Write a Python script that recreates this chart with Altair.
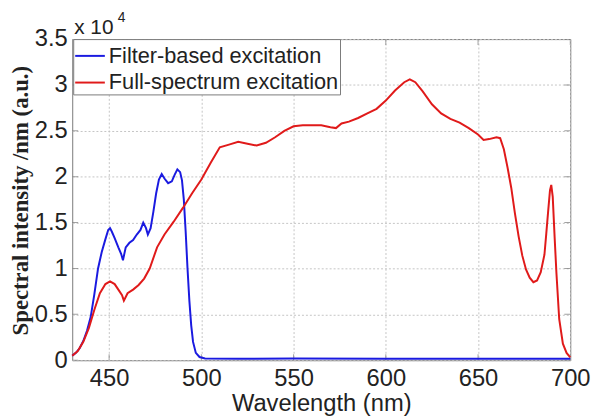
import altair as alt
import pandas as pd

# Filter-based excitation (blue)
blue_nm = [430, 432, 434, 436, 438, 440, 442, 444, 446, 448, 449.5, 450.5, 451.5, 453, 455,
           456.5, 457.5, 459, 461, 463, 465, 467, 468.5, 470, 471, 472.5, 474, 475.5, 477,
           478.5, 480, 482, 484, 485.5, 487, 488.5, 489.5, 490.5, 491.5, 492.5, 493.5, 494.5,
           495.5, 497, 499, 502, 520, 550, 600, 650, 700]
blue_val = [500, 800, 1300, 2100, 3200, 4700, 7200, 10000, 11800, 13200, 14200, 14400, 14000,
            13300, 12300, 11600, 10900, 12300, 12800, 13100, 13700, 14200, 15000, 14400, 13700,
            14400, 16200, 18200, 19700, 20300, 19800, 19300, 19500, 20200, 20800, 20500, 19600,
            17500, 14000, 10000, 6500, 3800, 2000, 800, 350, 200, 150, 200, 150, 150, 150]

# Full-spectrum excitation (red)
red_nm = [430, 433, 436, 439, 442, 445, 448, 450.5, 453, 455, 457, 458, 460, 463, 466, 469, 472,
          476, 480, 485, 490, 495, 500, 505, 510, 515, 520, 525, 530, 535, 540, 545, 550, 555,
          560, 565, 570, 573, 576, 580, 585, 590, 595, 600, 605, 610, 613, 616, 620, 625, 630,
          635, 640, 645, 650, 653, 656, 660, 662, 664, 666, 668, 670, 672, 674, 676, 678, 680,
          682, 684, 686, 687, 688, 689, 689.7, 690.5, 691.5, 692.5, 694, 696, 698, 700]
red_val = [500, 1000, 2000, 3500, 5500, 7300, 8300, 8600, 8300, 7700, 7100, 6500, 7300, 7700,
           8200, 8900, 10000, 12300, 13700, 15100, 16600, 18200, 19700, 21500, 23200, 23500,
           23800, 23600, 23400, 23700, 24300, 25000, 25500, 25600, 25600, 25600, 25400, 25300,
           25800, 26000, 26400, 26900, 27400, 28300, 29400, 30300, 30600, 30300, 29300, 27900,
           26900, 26300, 25900, 25300, 24600, 24000, 24100, 24300, 24200, 23000, 21000, 18800,
           16000, 13500, 11400, 9900, 9000, 8500, 8700, 9600, 11500, 13800, 16200, 18500, 19100,
           17800, 13500, 9500, 4500, 1800, 800, 300]

series_names = ["Filter-based excitation", "Full-spectrum excitation"]
series_colors = ["#1a1ae0", "#e01a1a"]
x_ticks = [450, 500, 550, 600, 650, 700]
y_ticks = [0, 5000, 10000, 15000, 20000, 25000, 30000, 35000]

W, H = 504, 325
frame_color = "#7a7a7a"

df = pd.concat([
    pd.DataFrame({"nm": blue_nm, "val": blue_val, "series": series_names[0]}),
    pd.DataFrame({"nm": red_nm, "val": red_val, "series": series_names[1]}),
])

x_enc = alt.X("nm:Q", scale=alt.Scale(domain=[430, 700], nice=False, zero=False),
              axis=alt.Axis(values=x_ticks, title="Wavelength (nm)", titleY=32,
                            labelPadding=7, format="d", labelFlush=False))
y_enc = alt.Y("val:Q", scale=alt.Scale(domain=[0, 35000], nice=False),
              axis=alt.Axis(values=y_ticks, title="Spectral intensity /nm (a.u.)",
                            labelExpr="format(datum.value / 10000, '~g')",
                            labelPadding=5, labelFlush=False, titleX=-40, titleY=163,
                            titleFont="Liberation Serif", titleFontWeight="bold",
                            titleFontSize=23))

lines = alt.Chart(df).mark_line(strokeWidth=2).encode(
    x=x_enc, y=y_enc,
    color=alt.Color("series:N", scale=alt.Scale(domain=series_names, range=series_colors),
                    legend=alt.Legend(title=None, orient="none", legendX=1, legendY=0)),
    detail="series:N",
)

xt = pd.DataFrame({"nm": x_ticks})
yt = pd.DataFrame({"val": y_ticks})
tick_style = dict(size=12, thickness=1, color=frame_color, clip=True)
ticks_bottom = alt.Chart(xt).mark_tick(orient="vertical", **tick_style).encode(x=x_enc, y=alt.value(H))
ticks_top = alt.Chart(xt).mark_tick(orient="vertical", **tick_style).encode(x=x_enc, y=alt.value(0))
ticks_left = alt.Chart(yt).mark_tick(orient="horizontal", **tick_style).encode(y=y_enc, x=alt.value(0))
ticks_right = alt.Chart(yt).mark_tick(orient="horizontal", **tick_style).encode(y=y_enc, x=alt.value(W))

exp_main = alt.Chart(pd.DataFrame({"t": ["x 10"]})).mark_text(
    align="left", baseline="alphabetic", font="Liberation Sans", fontSize=21, color="#222"
).encode(text="t:N", x=alt.value(2), y=alt.value(-5))

exp_sup = alt.Chart(pd.DataFrame({"t": ["4"]})).mark_text(
    align="left", baseline="alphabetic", font="Liberation Sans", fontSize=14, color="#222"
).encode(text="t:N", x=alt.value(46), y=alt.value(-17))

chart = alt.layer(ticks_bottom, ticks_top, ticks_left, ticks_right, lines, exp_main, exp_sup).properties(
    width=W, height=H,
    padding={"left": 65, "top": 29, "right": 22, "bottom": 56},
    autosize=alt.AutoSizeParams(type="none"),
).configure_view(
    stroke=frame_color, strokeWidth=1
).configure_axis(
    labelFont="Liberation Sans", labelFontSize=24, labelColor="#222",
    titleFont="Liberation Sans", titleFontSize=24, titleColor="#222", titleFontWeight="normal",
    ticks=False, tickSize=0, domain=False,
    grid=True, gridColor="#c4c4c4", gridDash=[2, 2], gridWidth=1,
).configure_legend(
    symbolType="stroke", symbolSize=900, symbolStrokeWidth=2,
    labelFont="Liberation Sans", labelFontSize=22, labelColor="#222", labelOffset=3,
    labelLimit=0, fillColor="white", strokeColor=frame_color, padding=1, rowPadding=-2,
)

chart.save("out.html", embed_options={"renderer": "svg", "actions": False})
